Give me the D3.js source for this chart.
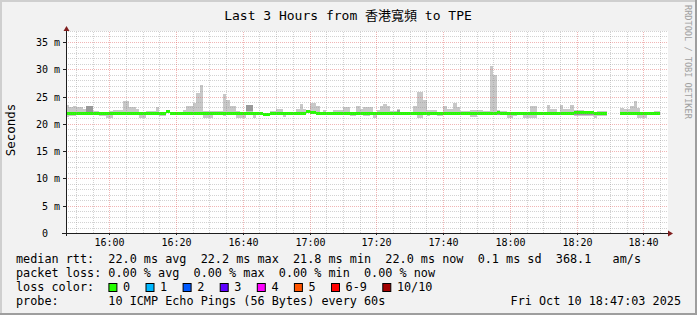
<!DOCTYPE html>
<html>
<head>
<meta charset="utf-8">
<script src="https://cdn.jsdelivr.net/npm/d3@7"></script>
<style>
body { margin: 0; background: #f2f2f2; }
svg { display: block; }
text { font-family: "DejaVu Sans Mono", "Noto Sans CJK TC", monospace; fill: #000; }
</style>
</head>
<body>
<script>
// one sample per minute, 15:47:03 -> 18:47:03
const startTime = new Date(2025, 9, 10, 15, 47, 3);
const stepSeconds = 60;

const medianRtt = [
	22.0,22.0,22.0,22.0,22.0,22.0,22.0,22.0,22.0,22.0,
	22.0,22.0,22.0,22.0,22.0,22.0,22.0,22.0,22.0,22.0,
	22.0,22.0,22.0,22.0,22.0,22.0,22.0,22.0,21.9,21.9,
	22.3,22.0,22.0,22.0,22.0,22.0,22.0,22.0,22.0,22.0,
	22.0,22.0,22.0,22.0,22.0,22.0,22.0,22.0,22.0,22.0,
	22.0,22.0,22.0,22.0,22.0,22.0,22.0,22.0,22.0,21.8,
	21.8,22.0,22.0,22.0,22.0,22.0,22.0,22.0,22.0,22.0,
	22.0,22.0,22.3,22.2,22.2,22.0,22.0,22.0,22.0,22.0,
	22.0,22.0,22.0,22.0,22.0,22.0,22.0,22.0,22.0,22.0,
	22.0,22.0,22.0,22.0,22.0,22.0,22.0,22.0,22.0,22.0,
	22.0,22.0,22.0,22.0,22.0,22.0,22.0,22.0,22.0,22.0,
	22.0,22.0,22.0,22.0,22.0,22.0,22.0,22.0,22.0,22.0,
	22.0,22.0,22.0,22.0,22.0,22.0,22.0,22.0,22.0,22.1,
	22.0,22.0,21.9,21.9,22.0,22.0,22.0,22.0,22.0,22.0,
	22.0,22.0,22.0,22.0,22.0,22.0,22.0,22.0,22.0,22.0,
	22.0,22.0,22.1,22.1,22.1,22.1,22.1,22.1,22.0,22.0,
	22.0,22.0,null,null,null,null,22.0,22.0,22.0,22.0,
	22.0,22.0,22.0,22.0,22.0,22.0,22.0,22.0,null,null
];

const smokeHi = [
	23.45,23.0,23.3,23.0,23.0,22.7,23.2,23.2,22.4,22.4,
	22.2,22.2,22.2,22.3,22.5,22.5,22.5,24.1,24.1,23.0,
	23.0,22.8,22.2,22.2,22.4,22.4,22.4,23.0,22.2,22.2,
	22.5,22.2,22.2,22.2,22.2,22.5,23.2,23.2,23.8,25.7,
	27.1,22.3,22.3,22.3,22.3,22.3,22.3,25.5,24.3,23.2,
	23.2,22.4,22.2,22.2,23.45,23.45,22.2,22.2,22.2,22.0,
	22.0,22.4,22.4,22.7,22.7,22.2,22.2,22.2,22.2,22.8,
	23.6,22.8,22.5,23.8,23.8,23.2,22.2,22.6,22.2,22.2,
	22.5,22.5,22.5,23.0,23.0,22.2,22.2,23.3,22.8,23.0,
	23.0,23.0,22.2,22.5,23.2,23.6,23.3,22.4,22.4,22.7,
	22.2,22.2,22.2,22.2,23.2,25.9,25.9,24.3,22.5,22.5,
	22.5,22.2,22.2,23.3,22.7,22.7,23.9,23.0,22.4,22.4,
	22.4,22.5,22.5,22.5,22.5,22.3,22.3,30.5,29.0,22.5,
	22.4,22.4,22.1,22.1,22.2,22.2,22.2,22.2,22.2,23.3,
	23.3,22.2,22.2,22.2,23.45,22.8,22.8,22.2,23.45,22.8,
	22.8,23.45,22.5,22.5,22.5,22.4,22.4,22.4,22.2,22.4,
	22.4,22.4,null,null,null,null,22.9,22.7,22.7,23.3,
	24.2,22.9,22.2,22.2,22.2,22.2,22.4,22.4,null,null
];

const smokeLo = [
	21.3,21.5,21.5,21.6,21.6,21.7,21.7,21.7,21.8,21.8,
	21.5,21.5,21.1,21.1,21.8,21.8,21.7,21.7,21.8,21.8,
	21.7,21.7,21.0,21.0,21.8,21.8,21.8,21.8,21.4,21.4,
	21.9,21.8,21.8,21.8,21.7,21.7,21.8,21.8,21.7,21.7,
	21.7,21.0,21.0,21.0,21.6,21.6,21.6,21.5,21.6,21.7,
	21.7,21.1,21.0,21.0,21.6,21.6,21.1,21.8,21.8,21.6,
	21.6,21.8,21.8,21.8,21.8,21.3,21.8,21.8,21.8,21.8,
	21.8,21.6,22.0,21.8,21.8,21.8,21.6,21.8,21.6,21.6,
	21.8,21.8,21.7,21.7,21.7,21.5,21.5,21.8,21.8,21.5,
	21.5,21.6,21.0,21.6,21.8,21.8,21.7,21.8,21.8,21.7,
	21.7,21.7,21.7,21.7,21.8,21.0,21.0,21.6,21.4,21.8,
	21.8,21.4,21.4,21.8,21.8,21.7,21.8,21.8,21.8,21.8,
	21.8,21.2,21.2,21.8,21.8,21.6,21.6,21.8,21.8,21.7,
	21.8,21.8,21.0,21.0,21.5,21.8,21.8,21.0,21.0,21.0,
	21.0,21.8,21.8,21.8,21.8,21.6,21.6,21.6,21.8,21.8,
	21.8,21.8,21.5,21.5,21.5,21.5,21.5,21.5,21.1,21.4,
	21.4,21.4,null,null,null,null,21.8,21.6,21.6,21.8,
	21.8,21.0,21.0,21.0,21.8,21.8,21.6,21.6,null,null
];

// darker inner smoke (several pings together)
const innerIdx = [6, 7, 28, 29, 54, 55, 78, 79, 96, 99, 129, 152, 153, 154, 155, 156, 157];
const innerLo  = [22.0,22.0,21.6,21.6,22.4,22.4,21.7,21.7,21.6,22.2,21.7,21.7,21.7,21.7,21.7,21.7,21.7];
const innerHi  = [23.2,23.2,21.9,21.9,23.4,23.4,21.9,21.9,21.9,22.6,21.9,22.0,22.0,22.0,22.0,22.0,22.0];

const rttStatValues = [22.0, 22.2, 21.8, 22.0, 0.1];
const rttStatNames = ["avg", "max", "min", "now", "sd"];
const amPerSecond = 368.1;
const lossStatValues = [0, 0, 0, 0];
const lossStatNames = ["avg", "max", "min", "now"];
const lossLabels = ["0", "1", "2", "3", "4", "5", "6-9", "10/10"];
const lossColors = ["#26ff00", "#00b8ff", "#0059ff", "#5e00ff", "#ff00ff", "#ff5500", "#ff0000", "#a10000"];

const width = 697;
const height = 315;
const plotLeft = 66, plotRight = 667, plotTop = 31, plotBottom = 233;

const endTime = new Date(+startTime + medianRtt.length * stepSeconds * 1000);
const times = d3.range(medianRtt.length + 1).map(i => new Date(+startTime + i * stepSeconds * 1000));

const xScale = d3.scaleTime().domain([startTime, endTime]).rangeRound([plotLeft, plotRight]);
const yScale = d3.scaleLinear().domain([0, 37]).rangeRound([plotBottom, plotTop]);

const svg = d3.select("body").append("svg").attr("width", width).attr("height", height);

// frame
svg.append("rect").attr("width", width).attr("height", height).attr("fill", "#f2f2f2");
svg.append("path").attr("d", `M0,1H${width}M1,0V${height}`).attr("stroke", "#cfcfcf").attr("stroke-width", 2);
svg.append("path").attr("d", `M0,${height - 1}H${width}M${width - 1},0V${height}`).attr("stroke", "#9e9e9e").attr("stroke-width", 2);

svg.append("rect").attr("x", plotLeft).attr("y", plotTop).attr("width", plotRight - plotLeft + 1).attr("height", plotBottom - plotTop)
	.attr("fill", "#fff");

// smoke
let samples = d3.range(medianRtt.length).filter(i => medianRtt[i] != null);
let plot = svg.append("g").attr("shape-rendering", "crispEdges");

plot.selectAll(".smoke").data(samples).enter().append("rect")
	.attr("x", i => xScale(times[i]))
	.attr("width", i => xScale(times[i + 1]) - xScale(times[i]))
	.attr("y", i => yScale(smokeHi[i]))
	.attr("height", i => yScale(smokeLo[i]) - yScale(smokeHi[i]))
	.attr("fill", "#c8c8c8");

plot.selectAll(".inner").data(innerIdx).enter().append("rect")
	.attr("x", i => xScale(times[i]))
	.attr("width", i => xScale(times[i + 1]) - xScale(times[i]))
	.attr("y", (i, k) => yScale(innerHi[k]))
	.attr("height", (i, k) => Math.max(1, yScale(innerLo[k]) - yScale(innerHi[k])))
	.attr("fill", "#9a9a9a");

// median, coloured by loss (all 0 here)
plot.selectAll(".median").data(samples).enter().append("rect")
	.attr("x", i => xScale(times[i]))
	.attr("width", i => xScale(times[i + 1]) - xScale(times[i]))
	.attr("y", i => yScale(medianRtt[i]) - 1)
	.attr("height", 3)
	.attr("fill", lossColors[0]);

// grid
function styleGrid(g, color){
	g.select(".domain").remove();
	g.selectAll("line").attr("stroke", color).attr("stroke-dasharray", "1,1");
}
let isMajorY = d => d % 5 === 0;
let isMajorX = d => d.getMinutes() % 20 === 0;
let minorColor = "rgba(143,143,143,0.4)";
let majorColor = "rgba(222,79,79,0.42)";

svg.append("g").attr("transform", `translate(${plotLeft},0)`)
	.call(d3.axisLeft(yScale).tickValues(d3.range(1, 38).filter(d => !isMajorY(d))).tickSize(-(plotRight - plotLeft)).tickFormat(""))
	.call(g => styleGrid(g, minorColor));
svg.append("g").attr("transform", `translate(0,${plotBottom})`)
	.call(d3.axisBottom(xScale).ticks(d3.timeMinute.every(5)).tickSize(-(plotBottom - plotTop)).tickFormat(""))
	.call(g => styleGrid(g, minorColor))
	.call(g => g.selectAll(".tick").filter(isMajorX).remove());
svg.append("g").attr("transform", `translate(${plotLeft},0)`)
	.call(d3.axisLeft(yScale).tickValues(d3.range(5, 37, 5)).tickSize(-(plotRight - plotLeft)).tickFormat(""))
	.call(g => styleGrid(g, majorColor));
svg.append("g").attr("transform", `translate(0,${plotBottom})`)
	.call(d3.axisBottom(xScale).ticks(d3.timeMinute.every(20)).tickSize(-(plotBottom - plotTop)).tickFormat(""))
	.call(g => styleGrid(g, majorColor));

// axes with labels
let yAxis = svg.append("g").attr("transform", `translate(${plotLeft},0)`)
	.call(d3.axisLeft(yScale).tickValues(d3.range(0, 36, 5)).tickSize(3).tickPadding(3)
		.tickFormat(d => d === 0 ? "0\u00a0\u00a0" : d + " m"));
yAxis.select(".domain").remove();
yAxis.selectAll("line").attr("stroke", "#1f1f1f");
yAxis.selectAll("text").attr("font-size", "10px").style("font-family", "DejaVu Sans Mono");

let xAxis = svg.append("g").attr("transform", `translate(0,${plotBottom})`)
	.call(d3.axisBottom(xScale).ticks(d3.timeMinute.every(20)).tickSize(2).tickPadding(4)
		.tickFormat(d3.timeFormat("%H:%M")));
xAxis.select(".domain").remove();
xAxis.selectAll("line").attr("stroke", "#1f1f1f");
xAxis.selectAll("text").attr("font-size", "10px").style("font-family", "DejaVu Sans Mono");

svg.append("path").attr("d", `M${plotLeft + 0.5},${plotBottom + 3}V${plotTop - 2}M${plotLeft - 4},${plotBottom + 0.5}H${plotRight + 1}`)
	.attr("stroke", "#1f1f1f").attr("fill", "none");
svg.append("path").attr("d", `M${plotLeft - 2.5},${plotTop}L${plotLeft + 3.5},${plotTop}L${plotLeft + 0.5},${plotTop - 5}Z`).attr("fill", "#801f1f");
svg.append("path").attr("d", `M${plotRight + 1},${plotBottom - 2.5}L${plotRight + 1},${plotBottom + 3.5}L${plotRight + 6},${plotBottom + 0.5}Z`).attr("fill", "#801f1f");

// titles
svg.append("text").attr("x", 348).attr("y", 19.5).attr("text-anchor", "middle").attr("font-size", "13px")
	.text("Last 3 Hours from 香港寬頻 to TPE");
svg.append("text").attr("transform", "translate(15,130) rotate(-90)").attr("text-anchor", "middle")
	.attr("font-size", "12.5px").text("Seconds");
svg.append("text").attr("transform", "translate(685,5) rotate(90)").attr("font-size", "8.6px")
	.style("fill", "#a0a0a0").text("RRDTOOL / TOBI OETIKER");

// legend
let f1 = d3.format(".1f"), f2 = d3.format(".2f");
let legendLines = [
	"median rtt:  " + rttStatValues.map((v, i) => f1(v) + " ms " + rttStatNames[i]).join("  ") + "  " + f1(amPerSecond) + "   am/s",
	"packet loss: " + lossStatValues.map((v, i) => f2(v) + " % " + lossStatNames[i]).join("  "),
	"loss color:",
	"probe:       10 ICMP Echo Pings (56 Bytes) every 60s"
];
let legendY = [263, 277, 291, 305];
svg.selectAll(".legend").data(legendLines).enter().append("text")
	.attr("x", 16).attr("y", (d, i) => legendY[i])
	.attr("font-size", "11.8px").style("white-space", "pre").text(d => d);

svg.append("text").attr("x", 681).attr("y", 305).attr("text-anchor", "end").attr("font-size", "11.8px")
	.text("Fri Oct 10 18:47:03 2025");

let charW = 7.1;
let boxX = [];
lossLabels.reduce((x, label) => { boxX.push(x); return x + 14.6 + label.length * charW + 15.4; }, 108.4);
let swatch = svg.selectAll(".swatch").data(lossLabels).enter().append("g")
	.attr("transform", (d, i) => `translate(${boxX[i]},0)`);
swatch.append("rect").attr("x", 0.5).attr("y", 283.5).attr("width", 8).attr("height", 8)
	.attr("fill", (d, i) => lossColors[i]).attr("stroke", "#000");
swatch.append("text").attr("x", 14.6).attr("y", 291).attr("font-size", "11.8px").text(d => d);
</script>
</body>
</html>
